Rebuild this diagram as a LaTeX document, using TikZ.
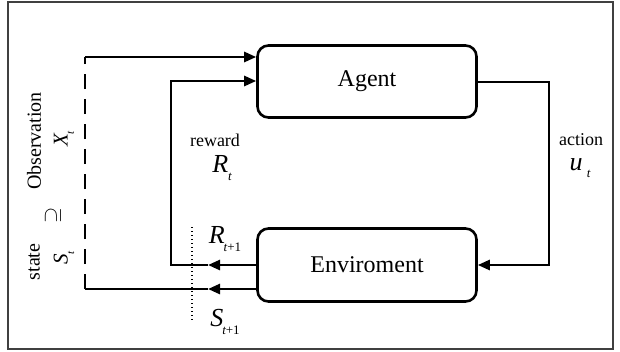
\documentclass[tikz,border=0pt]{standalone}
\usepackage{fontspec}
\setmainfont{Liberation Serif}
\usetikzlibrary{arrows.meta}
\newcommand\lowsub[2][13]{\raisebox{-0.3em}{\fontsize{#1}{#1}\selectfont #2}}
\begin{document}
\begin{tikzpicture}[x=1pt,y=-1pt,
  box/.style={draw,line width=2.6pt,rounded corners=11pt,minimum width=219pt,
    inner sep=0pt,font=\fontsize{24}{28}\selectfont},
  conn/.style={line width=2.6pt},
  tip/.style={-{Triangle[length=12pt,width=10pt]}},
  dashline/.style={line width=2.6pt,dash pattern=on 15pt off 10pt},
  dotline/.style={line width=1.3pt,dash pattern=on 1.3pt off 2.7pt},
  lab/.style={inner sep=0pt,font=\fontsize{18}{20}\selectfont},
  sym/.style={inner sep=0pt,font=\fontsize{26}{28}\selectfont\itshape},
  side/.style={inner sep=0pt,rotate=90,font=\fontsize{20}{22}\selectfont},
  sidesym/.style={inner sep=0pt,rotate=90,font=\fontsize{21}{23}\selectfont\itshape}]
\useasboundingbox (0,0) rectangle (620,351);
\draw[line width=1.5pt,black!75] (8,2) rectangle (613,349);
% boxes
\node[box,minimum height=72pt] (agent) at (367,81.5) {Agent};
\node[box,minimum height=73pt] (env) at (367,265) {Enviroment};
% coordinates
\coordinate (c1) at (85,57);
\coordinate (c2) at (85,289);
\coordinate (c3) at (171,81);
\coordinate (c4) at (171,265);
\coordinate (c5) at (549,82);
\coordinate (c6) at (549,265);
\coordinate (m1) at (208,265);
\coordinate (m2) at (208,289);
\coordinate (d1) at (192,227);
\coordinate (d2) at (192,322);
% connectors
\draw[conn,tip] (env.west |- m1) -- (m1);
\draw[conn,tip] (m1) -- (c4) -- (c3) -- (agent.west |- c3);
\draw[conn,tip] (env.west |- m2) -- (m2);
\draw[conn] (m2) -- (c2);
\draw[dashline] (c2) -- (c1);
\draw[conn,tip] (c1) -- (agent.west |- c1);
\draw[conn,tip] (agent.east |- c5) -- (c5) -- (c6) -- (env.east |- c6);
\draw[dotline] (d1) -- (d2);
% labels
\node[lab] (rw) at (215,140) {reward};
\node[sym] (rt) at (222,168) {R\lowsub{t}};
\node[lab] (ac) at (581,140) {action};
\node[sym] (ut) at (580,168) {u\,\lowsub{t}};
\node[sym] (rt1) at (225,239) {R\kern-1pt\lowsub{\textit{t}\upshape+1}};
\node[sym] (st1) at (225,322) {S\kern-1pt\lowsub{\textit{t}\upshape+1}};
\node[side] (obs) at (34,141) {Observation};
\node[sidesym] (xt) at (64,139) {X\lowsub[11]{t}};
\node[inner sep=0pt,rotate=90,font=\fontsize{20}{22}\selectfont] (sup) at (53,215) {$\supseteq$};
\node[side] (st) at (34,262) {state};
\node[sidesym] (s) at (64,258) {S\lowsub[11]{t}};
\end{tikzpicture}
\end{document}
